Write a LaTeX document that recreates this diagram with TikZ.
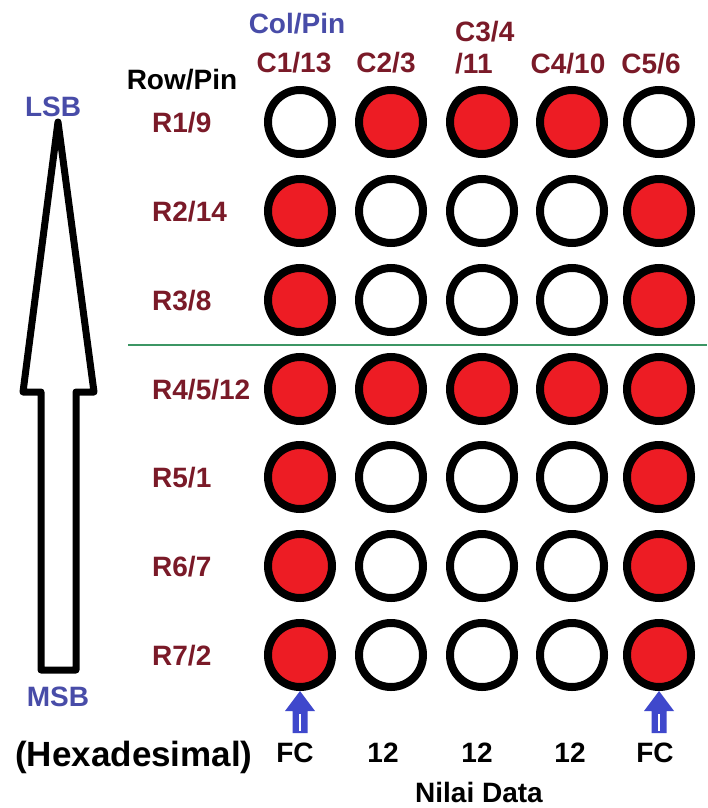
\documentclass[tikz,border=0pt]{standalone}
\usepackage{fontspec}
\setmainfont{Liberation Sans}
\definecolor{ledred}{RGB}{237,28,36}
\definecolor{pinred}{RGB}{122,26,40}
\definecolor{labelblue}{RGB}{72,76,168}
\definecolor{arrowblue}{RGB}{63,72,204}
\definecolor{divider}{RGB}{60,150,100}
\tikzset{
  led/.style={circle, draw=black, line width=8pt, minimum size=64pt, inner sep=0pt, fill=white},
  on/.style={led, fill=ledred},
  txt/.style={inner sep=0pt, font=\bfseries\fontsize{28}{30}\selectfont},
  pin/.style={txt, text=pinred},
  bluetxt/.style={txt, text=labelblue},
  bigarrow/.style={draw=black, line width=7pt, line join=round, fill=white},
  pointer/.style={fill=arrowblue}
}
\begin{document}
\begin{tikzpicture}[x=1pt,y=-1pt]
\useasboundingbox[fill=white] (0,0) rectangle (707,808);

% LED matrix, 7 rows x 5 columns
\def\colx{{300,391,482,572,659}}
\def\rowy{{122,211,300,389,477,566,655}}
\foreach \r/\pattern in {1/{0,1,1,1,0},2/{1,0,0,0,1},3/{1,0,0,0,1},4/{1,1,1,1,1},5/{1,0,0,0,1},6/{1,0,0,0,1},7/{1,0,0,0,1}}{
  \foreach \v [count=\c] in \pattern {
    \pgfmathsetmacro{\xx}{\colx[\c-1]}
    \pgfmathsetmacro{\yy}{\rowy[\r-1]}
    \ifnum\v=1
      \node[on] (c\r\c) at (\xx,\yy) {};
    \else
      \node[led] (c\r\c) at (\xx,\yy) {};
    \fi
  }
}

% divider between upper and lower rows
\coordinate (divL) at (128,345);
\coordinate (divR) at (707,345);
\draw[divider, line width=1.2pt] (divL) -- (divR);

% column headings
\node[bluetxt] (colpin) at (297,24) {Col/Pin};
\node[pin, anchor=base] (h1) at (294,72) {C1/13};
\node[pin, anchor=base] (h2) at (386,72) {C2/3};
\node[pin, anchor=base west] (h3a) at (455,42) {C3/4};
\node[pin, anchor=base west] (h3b) at (455,74) {/11};
\node[pin, anchor=base] (h4) at (568,74) {C4/10};
\node[pin, anchor=base] (h5) at (651,74) {C5/6};

% row headings
\node[txt, anchor=base] (rowpin) at (182,89) {Row/Pin};
\foreach \r/\lab in {1/R1\slash 9,2/R2\slash 14,3/R3\slash 8,4/R4\slash 5\slash 12,5/R5\slash 1,6/R6\slash 7,7/R7\slash 2}{
  \pgfmathsetmacro{\yy}{\rowy[\r-1]+10}
  \node[pin, anchor=base west] (r\r) at (152,\yy) {\lab};
}

% bit order arrow
\draw[bigarrow] (58,122) -- (94,392) -- (76,392) -- (76,670) -- (41,670) -- (41,392) -- (23,392) -- cycle;
\node[bluetxt] (lsb) at (53,107) {LSB};
\node[bluetxt] (msb) at (58,697) {MSB};

% pointers to the first and last columns
\foreach \n in {71,75}{
  \fill[pointer] (c\n.south) -- ++(15,20) -- ++(-7.5,0) -- ++(0,22) -- ++(-15,0) -- ++(0,-22) -- ++(-7.5,0) -- cycle;
  \draw[white, line width=1.2pt] ([yshift=-23pt]c\n.south) -- ([yshift=-40pt]c\n.south);
}

% data values
\node[txt, anchor=base, font=\bfseries\fontsize{35}{38}\selectfont] (hex) at (134,766) {(Hexadesimal)};
\node[txt, anchor=base] (v1) at (295,762) {FC};
\node[txt, anchor=base] (v2) at (383,762) {12};
\node[txt, anchor=base] (v3) at (477,762) {12};
\node[txt, anchor=base] (v4) at (570,762) {12};
\node[txt, anchor=base] (v5) at (655,762) {FC};
\node[txt, anchor=base] (nilai) at (479,802) {Nilai Data};
\end{tikzpicture}
\end{document}
